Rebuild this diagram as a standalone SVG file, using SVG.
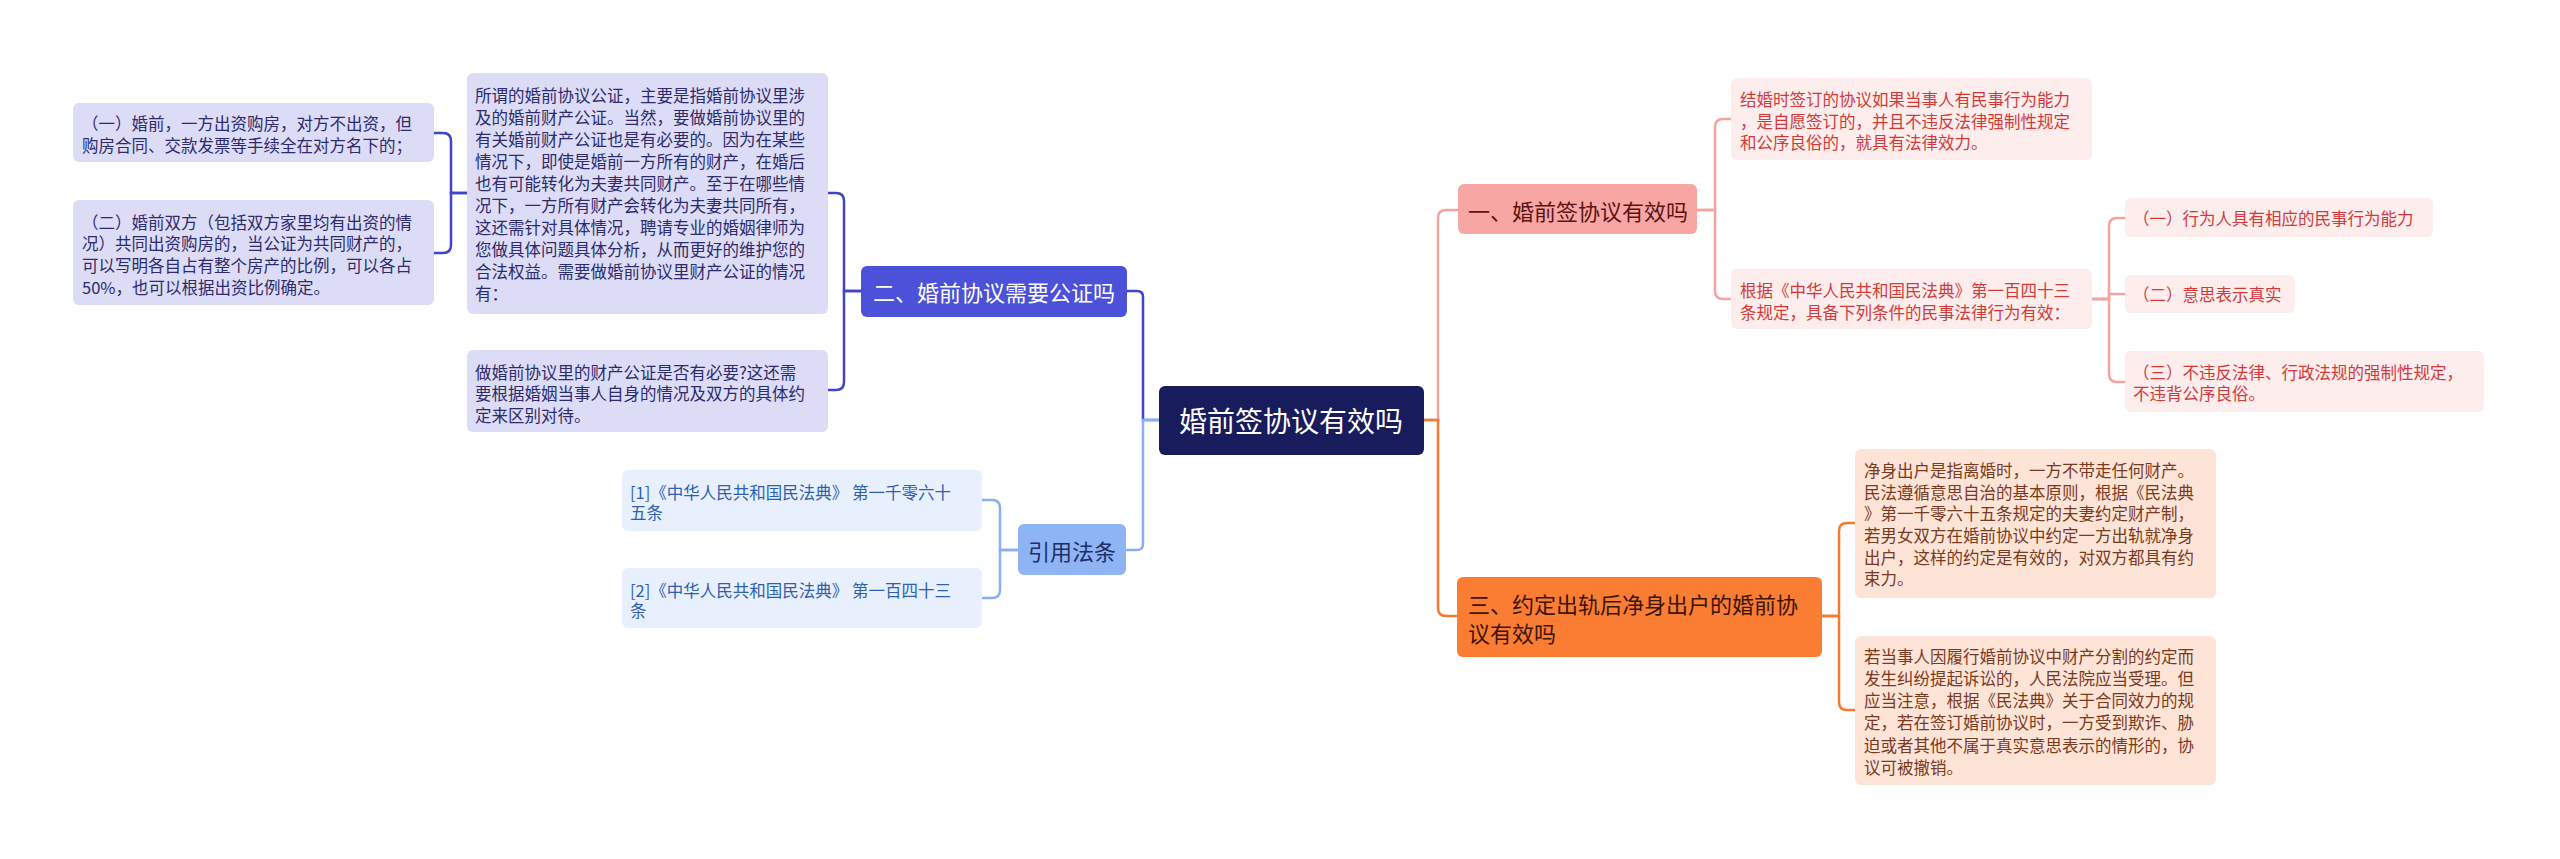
<svg xmlns="http://www.w3.org/2000/svg" width="2560" height="859" viewBox="0 0 2560 859">
<style>
text{font-family:"Noto Sans CJK SC","Liberation Sans",sans-serif;dominant-baseline:central}
.t{font-size:16.5px}
.c{fill:none;stroke-width:2.5}
.lb{fill:#dcdcf6}.lt{fill:#2d2b6b}
.pb{fill:#fdeded}.pt{fill:#d23a3a}
.ob{fill:#fde4d6}.ot{fill:#7a3a1e}
.cb{fill:#e8f0fd}.ct{fill:#2f5fb0}
</style>
<rect width="2560" height="859" fill="#fff"/>
<g id="connectors">
<path class="c" stroke="#3f44c8" d="M1159 420 H1143 V297 Q1143 291 1137 291 H1127"/>
<path class="c" stroke="#8ab0f0" d="M1159 420 H1143 V544 Q1143 550 1137 550 H1126"/>
<path class="c" stroke="#f3a3a0" d="M1424 420 H1438 V218 Q1438 210 1446 210 H1458"/>
<path class="c" stroke="#f57a30" d="M1424 420 H1438 V608 Q1438 616 1446 616 H1457"/>
<path class="c" stroke="#3f44c8" d="M861 291 H844 V201 Q844 193 836 193 H828"/>
<path class="c" stroke="#3f44c8" d="M861 291 H844 V382 Q844 390 836 390 H828"/>
<path class="c" stroke="#3f44c8" d="M467 193 H451 V141 Q451 133 443 133 H434"/>
<path class="c" stroke="#3f44c8" d="M467 193 H451 V245 Q451 253 443 253 H434"/>
<path class="c" stroke="#8ab0f0" d="M1018 550 H1000 V508 Q1000 500 992 500 H982"/>
<path class="c" stroke="#8ab0f0" d="M1018 550 H1000 V590 Q1000 598 992 598 H982"/>
<path class="c" stroke="#f3a3a0" d="M1697 210 H1715 V127 Q1715 119 1723 119 H1731"/>
<path class="c" stroke="#f3a3a0" d="M1697 210 H1715 V291 Q1715 299 1723 299 H1731"/>
<path class="c" stroke="#f3a3a0" d="M2092 299 H2109 V226 Q2109 218 2117 218 H2125"/>
<path class="c" stroke="#f3a3a0" d="M2092 299 H2109 V294 H2125"/>
<path class="c" stroke="#f3a3a0" d="M2092 299 H2109 V374 Q2109 382 2117 382 H2125"/>
<path class="c" stroke="#f57a30" d="M1822 616 H1839 V531 Q1839 523 1847 523 H1855"/>
<path class="c" stroke="#f57a30" d="M1822 616 H1839 V702 Q1839 710 1847 710 H1855"/>
</g>
<g id="root"><rect x="1159" y="386" width="265" height="69" rx="6" fill="#181b5c"/><text x="1291" y="420" font-size="28" fill="#fff" text-anchor="middle">婚前签协议有效吗</text></g>
<g id="n2"><rect x="861" y="266" width="266" height="51" rx="6" fill="#4b51d8"/><text x="873" y="291" font-size="22" fill="#fff">二、婚前协议需要公证吗</text></g>
<g id="cite"><rect x="1018" y="524" width="108" height="51" rx="6" fill="#8fb4f5"/><text x="1072" y="550" font-size="22" fill="#1c2f66" text-anchor="middle">引用法条</text></g>
<g id="n1"><rect x="1458" y="184" width="239" height="50" rx="6" fill="#f7a6a4"/><text x="1468" y="210" font-size="22" fill="#5a1414">一、婚前签协议有效吗</text></g>
<g id="n3"><rect x="1457" y="577" width="365" height="80" rx="6" fill="#fb7c33"/><text x="1468" y="603" font-size="22" fill="#3a1505">三、约定出轨后净身出户的婚前协</text><text x="1468" y="632" font-size="22" fill="#3a1505">议有效吗</text></g>
<g id="a"><rect class="lb" x="467" y="73" width="361" height="241" rx="6"/>
<text class="t lt" x="475" y="95">所谓的婚前协议公证，主要是指婚前协议里涉</text>
<text class="t lt" x="475" y="117">及的婚前财产公证。当然，要做婚前协议里的</text>
<text class="t lt" x="475" y="139">有关婚前财产公证也是有必要的。因为在某些</text>
<text class="t lt" x="475" y="161">情况下，即使是婚前一方所有的财产，在婚后</text>
<text class="t lt" x="475" y="183">也有可能转化为夫妻共同财产。至于在哪些情</text>
<text class="t lt" x="475" y="205">况下，一方所有财产会转化为夫妻共同所有，</text>
<text class="t lt" x="475" y="227">这还需针对具体情况，聘请专业的婚姻律师为</text>
<text class="t lt" x="475" y="249">您做具体问题具体分析，从而更好的维护您的</text>
<text class="t lt" x="475" y="271">合法权益。需要做婚前协议里财产公证的情况</text>
<text class="t lt" x="475" y="293">有：</text></g>
<g id="b"><rect class="lb" x="467" y="350" width="361" height="82" rx="6"/>
<text class="t lt" x="475" y="372">做婚前协议里的财产公证是否有必要?这还需</text>
<text class="t lt" x="475" y="393">要根据婚姻当事人自身的情况及双方的具体约</text>
<text class="t lt" x="475" y="415">定来区别对待。</text></g>
<g id="c1"><rect class="lb" x="73" y="103" width="361" height="59" rx="6"/>
<text class="t lt" x="82" y="123">（一）婚前，一方出资购房，对方不出资，但</text>
<text class="t lt" x="82" y="145">购房合同、交款发票等手续全在对方名下的；</text></g>
<g id="c2"><rect class="lb" x="73" y="200" width="361" height="105" rx="6"/>
<text class="t lt" x="82" y="222">（二）婚前双方（包括双方家里均有出资的情</text>
<text class="t lt" x="82" y="243">况）共同出资购房的，当公证为共同财产的，</text>
<text class="t lt" x="82" y="265">可以写明各自占有整个房产的比例，可以各占</text>
<text class="t lt" x="82" y="287">50%，也可以根据出资比例确定。</text></g>
<g id="r1"><rect class="cb" x="622" y="470" width="360" height="61" rx="6"/>
<text class="t ct" x="630" y="492">[1]《中华人民共和国民法典》 第一千零六十</text>
<text class="t ct" x="630" y="512">五条</text></g>
<g id="r2"><rect class="cb" x="622" y="568" width="360" height="60" rx="6"/>
<text class="t ct" x="630" y="590">[2]《中华人民共和国民法典》 第一百四十三</text>
<text class="t ct" x="630" y="610">条</text></g>
<g id="e"><rect class="pb" x="1731" y="78" width="361" height="82" rx="6"/>
<text class="t pt" x="1740" y="99">结婚时签订的协议如果当事人有民事行为能力</text>
<text class="t pt" x="1740" y="121">，是自愿签订的，并且不违反法律强制性规定</text>
<text class="t pt" x="1740" y="142">和公序良俗的，就具有法律效力。</text></g>
<g id="f"><rect class="pb" x="1731" y="269" width="361" height="60" rx="6"/>
<text class="t pt" x="1740" y="290">根据《中华人民共和国民法典》第一百四十三</text>
<text class="t pt" x="1740" y="312">条规定，具备下列条件的民事法律行为有效：</text></g>
<g id="g"><rect class="pb" x="2125" y="198" width="308" height="39" rx="6"/><text class="t pt" x="2133" y="218">（一）行为人具有相应的民事行为能力</text></g>
<g id="h"><rect class="pb" x="2125" y="275" width="170" height="38" rx="6"/><text class="t pt" x="2133" y="294">（二）意思表示真实</text></g>
<g id="i"><rect class="pb" x="2125" y="351" width="359" height="61" rx="6"/>
<text class="t pt" x="2133" y="372">（三）不违反法律、行政法规的强制性规定，</text>
<text class="t pt" x="2133" y="393">不违背公序良俗。</text></g>
<g id="j"><rect class="ob" x="1855" y="449" width="361" height="149" rx="6"/>
<text class="t ot" x="1864" y="470">净身出户是指离婚时，一方不带走任何财产。</text>
<text class="t ot" x="1864" y="492">民法遵循意思自治的基本原则，根据《民法典</text>
<text class="t ot" x="1864" y="513">》第一千零六十五条规定的夫妻约定财产制，</text>
<text class="t ot" x="1864" y="535">若男女双方在婚前协议中约定一方出轨就净身</text>
<text class="t ot" x="1864" y="557">出户，这样的约定是有效的，对双方都具有约</text>
<text class="t ot" x="1864" y="578">束力。</text></g>
<g id="k"><rect class="ob" x="1855" y="636" width="361" height="149" rx="6"/>
<text class="t ot" x="1864" y="656">若当事人因履行婚前协议中财产分割的约定而</text>
<text class="t ot" x="1864" y="678">发生纠纷提起诉讼的，人民法院应当受理。但</text>
<text class="t ot" x="1864" y="700">应当注意，根据《民法典》关于合同效力的规</text>
<text class="t ot" x="1864" y="722">定，若在签订婚前协议时，一方受到欺诈、胁</text>
<text class="t ot" x="1864" y="745">迫或者其他不属于真实意思表示的情形的，协</text>
<text class="t ot" x="1864" y="767">议可被撤销。</text></g>
</svg>
